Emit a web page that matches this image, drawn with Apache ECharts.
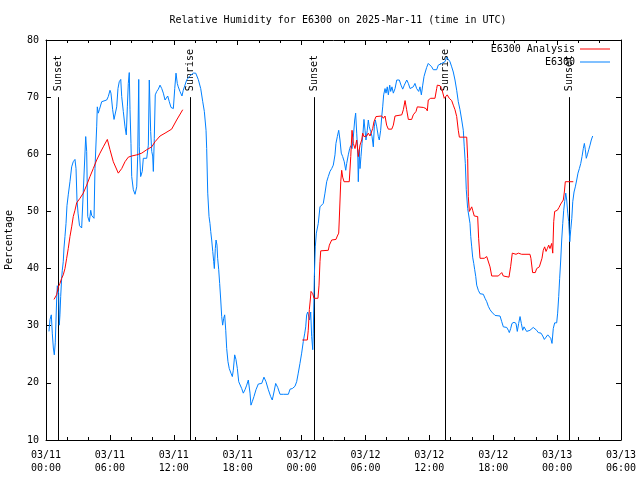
<!DOCTYPE html>
<html><head><meta charset="utf-8">
<script src="https://cdn.jsdelivr.net/npm/echarts@6/dist/echarts.min.js"></script>
<style>html,body{margin:0;padding:0;background:#fff}#c{width:640px;height:480px}</style>
</head><body><div id="c"></div>
<script>
// hours since 2025-03-11 00:00 UTC
const obsHours = [0.28,0.38,0.50,0.59,0.69,0.78,0.87,0.94,1.00,1.06,1.19,1.25,1.31,1.38,1.47,1.53,1.62,1.69,1.78,1.88,1.97,2.09,2.25,2.41,2.56,2.72,2.82,2.91,3.01,3.15,3.35,3.47,3.73,3.82,3.92,4.07,4.20,4.29,4.51,4.60,4.76,4.82,4.91,5.01,5.23,5.70,5.85,6.01,6.10,6.26,6.39,6.55,6.64,6.76,6.88,7.02,7.11,7.26,7.42,7.54,7.64,7.73,7.82,7.89,7.98,8.05,8.20,8.36,8.52,8.61,8.71,8.76,8.89,9.04,9.14,9.30,9.46,9.61,9.70,9.83,9.93,10.02,10.08,10.17,10.26,10.40,10.55,10.71,10.87,11.02,11.18,11.34,11.43,11.58,11.74,11.96,12.09,12.21,12.33,12.42,12.58,12.77,12.89,13.05,13.21,13.46,13.83,14.06,14.30,14.53,14.72,14.87,15.03,15.09,15.19,15.31,15.40,15.47,15.56,15.66,15.75,15.81,15.90,15.97,16.06,16.12,16.22,16.31,16.41,16.50,16.59,16.69,16.78,16.88,16.97,17.09,17.21,17.37,17.50,17.59,17.72,17.84,17.97,18.10,18.22,18.38,18.53,18.69,18.85,19.00,19.16,19.25,19.37,19.53,19.72,19.94,20.26,20.47,20.66,20.88,21.10,21.25,21.41,21.57,21.76,21.98,22.29,22.76,22.92,23.13,23.38,23.54,23.69,23.85,24.01,24.16,24.30,24.39,24.48,24.58,24.67,24.76,24.86,24.95,25.05,25.10,25.20,25.29,25.39,25.57,25.73,25.89,26.04,26.20,26.36,26.51,26.67,26.83,26.98,27.14,27.23,27.36,27.49,27.61,27.73,27.86,28.01,28.15,28.24,28.39,28.52,28.62,28.74,28.86,28.99,29.08,29.18,29.27,29.33,29.42,29.49,29.58,29.68,29.77,29.86,29.96,30.05,30.17,30.27,30.36,30.49,30.62,30.74,30.83,30.93,31.06,31.21,31.30,31.43,31.53,31.62,31.71,31.84,31.93,32.05,32.15,32.28,32.37,32.49,32.62,32.78,32.94,33.18,33.34,33.50,33.65,33.88,34.03,34.19,34.34,34.49,34.65,34.81,35.00,35.12,35.25,35.38,35.50,35.62,35.75,35.90,36.06,36.22,36.37,36.69,36.84,37.16,37.47,37.63,37.78,37.94,38.10,38.25,38.41,38.57,38.72,38.88,39.04,39.19,39.28,39.38,39.47,39.60,39.70,39.82,39.89,39.98,40.07,40.17,40.26,40.36,40.45,40.60,40.76,41.07,41.23,41.39,41.54,41.70,41.86,42.01,42.17,42.33,42.64,42.80,42.95,43.27,43.42,43.51,43.64,43.76,43.95,44.14,44.26,44.39,44.52,44.64,44.77,44.89,45.05,45.14,45.29,45.45,45.61,45.76,45.92,46.08,46.23,46.49,46.65,46.80,46.96,47.12,47.27,47.40,47.52,47.64,47.77,47.96,48.05,48.15,48.24,48.34,48.43,48.53,48.62,48.71,48.81,48.90,49.00,49.09,49.19,49.28,49.38,49.47,49.59,49.71,49.84,49.96,50.09,50.22,50.34,50.46,50.56,50.65,50.74,50.84,50.97,51.09,51.21,51.34];
const obsValues = [29.0,31.1,31.9,28.7,26.1,24.9,27.0,31.0,34.5,37.0,35.7,30.1,31.9,35.1,38.3,39.7,41.2,43.6,45.6,47.9,51.0,52.9,55.2,57.8,58.7,59.1,57.5,52.0,49.7,47.5,47.1,47.1,63.1,60.5,49.1,48.2,50.2,49.3,48.8,57.5,64.8,68.3,67.2,67.8,69.2,69.5,70.1,71.2,70.7,67.8,66.1,66.1,68.3,71.5,72.7,73.1,70.1,67.5,64.8,63.4,68.3,72.4,74.3,67.8,61.9,56.1,53.8,53.0,54.3,59.6,73.1,61.3,56.1,57.0,59.3,59.1,59.3,61.6,73.0,64.0,60.5,59.7,57.0,62.8,70.4,71.0,71.4,72.1,71.5,70.7,69.5,69.6,70.2,69.2,68.2,68.0,71.5,74.2,72.4,71.8,71.0,70.2,71.2,72.1,73.0,73.6,74.2,74.2,73.1,71.5,69.2,67.5,64.2,61.0,53.2,49.1,47.9,46.5,45.0,43.0,41.2,40.0,43.5,45.0,44.1,41.8,39.8,37.4,34.5,31.6,30.1,31.3,31.9,29.2,26.0,23.7,22.5,21.7,21.1,22.2,24.9,24.1,22.5,20.2,19.9,19.0,18.2,18.8,19.6,20.5,18.2,16.1,16.7,17.6,18.8,19.8,19.9,21.0,20.2,18.8,17.6,17.0,18.4,19.9,19.2,18.0,18.0,18.0,18.9,19.0,19.4,20.2,21.7,23.4,25.2,27.2,28.7,29.8,31.9,32.4,31.7,31.0,32.4,28.1,25.8,28.7,38.6,43.8,46.2,47.9,50.8,51.1,51.4,53.2,55.2,56.1,57.0,57.5,58.1,59.9,61.9,63.1,64.2,62.5,60.2,59.6,58.7,57.2,58.4,59.9,61.0,61.5,61.0,63.0,66.0,67.2,63.7,60.8,55.2,60.8,57.5,59.6,61.9,63.7,66.1,64.2,62.5,64.2,66.0,64.8,64.0,63.1,61.3,64.8,66.0,64.8,63.1,62.5,64.2,66.6,68.3,70.4,71.5,70.7,71.8,70.4,72.1,71.0,71.8,70.7,71.5,73.0,73.0,72.1,71.4,72.1,73.0,72.4,71.5,71.2,71.8,72.4,71.5,71.0,71.8,70.4,72.1,73.6,74.4,75.2,75.9,76.2,75.3,74.8,74.8,75.6,75.9,76.2,77.0,76.8,76.2,75.3,74.4,73.0,71.2,69.2,67.8,66.0,64.2,61.3,58.4,53.8,50.5,50.2,47.9,45.6,43.8,42.0,40.9,39.8,38.6,37.1,36.2,35.6,35.5,34.8,34.2,33.4,32.8,32.4,32.3,31.8,31.7,31.7,30.7,29.8,29.7,29.2,28.8,29.5,30.4,30.6,30.4,29.0,30.4,31.6,30.4,29.2,29.8,29.5,29.0,28.8,29.2,29.5,29.7,29.5,29.2,28.8,28.7,28.2,27.6,28.0,28.4,28.7,27.8,26.9,29.5,30.5,30.5,32.2,35.1,38.3,41.5,45.0,47.9,50.2,51.7,53.2,52.0,49.7,48.2,44.7,46.8,48.8,51.7,53.4,54.3,55.5,56.7,57.5,58.4,59.6,61.0,61.9,60.8,59.3,59.9,60.8,61.6,62.5,63.2];

const anaHours = [0.75,1.00,1.16,1.31,1.47,1.62,1.78,1.94,2.09,2.25,2.41,2.56,2.72,2.88,3.19,3.50,3.82,4.13,4.44,4.76,5.07,5.38,5.76,6.01,6.32,6.79,7.11,7.42,7.73,8.05,8.52,8.99,9.46,9.93,10.24,10.71,11.18,11.80,12.27,12.84,
  18.00,
  24.07,24.54,24.63,24.73,24.82,24.89,25.05,25.17,25.54,25.64,25.73,25.80,26.51,26.61,26.83,27.23,27.36,27.49,27.54,27.68,27.77,27.86,27.99,28.48,28.62,28.74,28.86,29.02,29.18,29.33,29.49,29.65,29.74,29.86,30.12,30.27,30.43,30.59,30.68,30.80,30.99,31.53,31.68,31.84,31.99,32.15,32.47,32.62,32.78,33.41,33.56,33.72,33.87,34.03,34.34,34.49,34.75,34.87,35.43,35.69,35.81,35.90,36.13,36.53,36.69,36.75,37.00,37.16,37.31,37.40,37.56,37.68,37.87,38.10,38.25,38.41,38.57,38.72,38.82,39.51,39.60,39.66,39.76,39.89,39.98,40.07,40.22,40.54,40.63,40.76,40.92,41.16,41.39,41.54,41.70,41.86,42.48,42.64,42.80,42.95,43.11,43.48,43.64,43.79,43.95,44.14,44.36,44.67,45.45,45.54,45.70,45.95,46.08,46.33,46.49,46.58,46.70,46.83,46.96,47.08,47.21,47.33,47.40,47.49,47.59,47.68,47.77,48.02,48.18,48.34,48.49,48.58,48.68,48.77,49.52];
const anaValues = [34.6,35.4,36.8,37.4,38.3,38.9,40.0,41.8,43.5,45.6,47.3,49.1,50.2,51.5,52.3,53.2,54.6,56.1,57.5,59.0,60.2,61.3,62.6,60.8,58.7,56.7,57.5,58.7,59.5,59.7,59.9,60.2,60.8,61.3,62.2,63.2,63.7,64.4,66.0,67.8,
  '-',
  27.5,27.5,29.2,32.8,34.5,36.0,35.6,34.8,34.8,37.1,41.2,43.1,43.2,44.1,45.0,45.1,45.7,46.2,48.5,55.2,57.2,56.0,55.2,55.2,59.6,64.2,61.9,61.0,62.5,59.6,61.6,62.5,63.7,63.1,63.2,63.7,63.2,63.2,64.5,65.7,66.6,66.7,66.3,66.7,65.1,64.4,64.4,65.1,66.7,66.9,67.8,69.4,67.8,66.1,66.1,66.9,67.5,68.3,68.2,68.0,67.6,69.5,69.8,69.8,71.5,72.1,72.0,71.5,71.5,69.8,69.5,70.4,69.8,69.4,68.6,67.8,66.6,64.2,63.0,63.0,59.3,52.6,50.0,50.2,50.8,50.2,49.2,49.1,45.3,41.8,41.5,41.8,42.1,42.0,40.3,38.7,38.7,39.0,39.3,38.7,38.5,38.5,40.4,42.7,42.4,42.5,42.7,42.5,42.5,41.8,39.3,39.3,40.0,40.3,40.3,41.8,43.2,43.8,43.0,43.5,44.1,43.5,43.2,44.4,42.7,48.2,50.0,50.2,50.7,51.3,51.4,52.0,53.4,55.2,55.2];

const sunHours = [1.16, 13.55, 25.20, 37.50, 49.15];
const sunLabels = ['Sunset', 'Sunrise', 'Sunset', 'Sunrise', 'Sunset'];

const xTickHours = [0, 6, 12, 18, 24, 30, 36, 42, 48, 54];
const yTicks = [10, 20, 30, 40, 50, 60, 70, 80];

const FONT = '"DejaVu Sans Mono", "Liberation Mono", monospace';

function fmtHour(h) {
  const day = 11 + Math.floor(h / 24);
  const hr = ((h % 24) + 24) % 24;
  return '03/' + String(day).padStart(2, '0') + '\n' + String(hr).padStart(2, '0') + ':00';
}

const chart = echarts.init(document.getElementById('c'), null, {renderer: 'canvas'});

const axisLineStyle = {color: '#000', width: 1};
const xCommon = {
  type: 'value', min: xTickHours[0], max: xTickHours[xTickHours.length - 1], interval: 6,
  axisLine: {show: true, onZero: false, lineStyle: axisLineStyle},
  axisTick: {show: true, inside: true, length: 5, lineStyle: axisLineStyle},
  minorTick: {show: true, splitNumber: 3, length: 3, lineStyle: axisLineStyle},
  splitLine: {show: false}
};
const yCommon = {
  type: 'value', min: yTicks[0], max: yTicks[yTicks.length - 1], interval: 10,
  axisLine: {show: true, onZero: false, lineStyle: axisLineStyle},
  axisTick: {show: true, inside: true, length: 5, lineStyle: axisLineStyle},
  splitLine: {show: false}
};

chart.setOption({
  animation: false,
  backgroundColor: '#fff',
  title: {
    text: 'Relative Humidity for E6300 on 2025-Mar-11 (time in UTC)',
    left: 333, top: 10, textAlign: 'center',
    textStyle: {fontFamily: FONT, fontSize: 10, fontWeight: 'normal', color: '#000'}
  },
  legend: {
    data: ['E6300 Analysis', 'E6300'],
    orient: 'vertical', align: 'right', icon: 'rect', padding: 0,
    right: 30, top: 43, itemWidth: 30, itemHeight: 1, itemGap: 1,
    textStyle: {fontFamily: FONT, fontSize: 10, color: '#000', lineHeight: 12}
  },
  grid: {left: 46, right: 19, top: 40, bottom: 40, containLabel: false, outerBoundsMode: 'none'},
  xAxis: [
    Object.assign({}, xCommon, {
      position: 'bottom',
      axisLabel: {show: true, margin: 9, fontFamily: FONT, fontSize: 10, color: '#000', lineHeight: 13,
        formatter: fmtHour}
    }),
    Object.assign({}, xCommon, {position: 'top', axisLabel: {show: false}})
  ],
  yAxis: [
    Object.assign({}, yCommon, {
      position: 'left',
      name: 'Percentage', nameLocation: 'middle', nameRotate: 90, nameGap: 32,
      nameTextStyle: {fontFamily: FONT, fontSize: 10, color: '#000'},
      axisLabel: {show: true, margin: 7, fontFamily: FONT, fontSize: 10, color: '#000'}
    }),
    Object.assign({}, yCommon, {position: 'right', axisLabel: {show: false}})
  ],
  series: [
    {
      type: 'custom', name: 'sun', xAxisIndex: 0, yAxisIndex: 0, z: 1,
      data: sunHours.map((h, i) => [h, i]),
      renderItem: function (params, api) {
        const h = api.value(0);
        const i = api.value(1);
        const top = api.coord([h, 70]);
        const bot = api.coord([h, 10]);
        const x = Math.round(top[0]) + 0.5;
        return {
          type: 'group',
          children: [
            {type: 'line', shape: {x1: x, y1: top[1], x2: x, y2: bot[1]},
              style: {stroke: '#000', lineWidth: 1}},
            {type: 'text', x: x, y: top[1] - 6, rotation: Math.PI / 2,
              style: {text: sunLabels[i], fill: '#000', font: '10px ' + FONT,
                align: 'left', verticalAlign: 'middle'}}
          ]
        };
      }
    },
    {
      type: 'line', name: 'E6300 Analysis', xAxisIndex: 0, yAxisIndex: 0, z: 3,
      symbol: 'none', showSymbol: false, connectNulls: false,
      lineStyle: {color: '#ff0000', width: 1}, itemStyle: {color: '#ff0000'},
      data: anaHours.map((h, i) => [h, anaValues[i]])
    },
    {
      type: 'line', name: 'E6300', xAxisIndex: 0, yAxisIndex: 0, z: 2,
      symbol: 'none', showSymbol: false,
      lineStyle: {color: '#0080ff', width: 1}, itemStyle: {color: '#0080ff'},
      data: obsHours.map((h, i) => [h, obsValues[i]])
    }
  ]
});
</script></body></html>
